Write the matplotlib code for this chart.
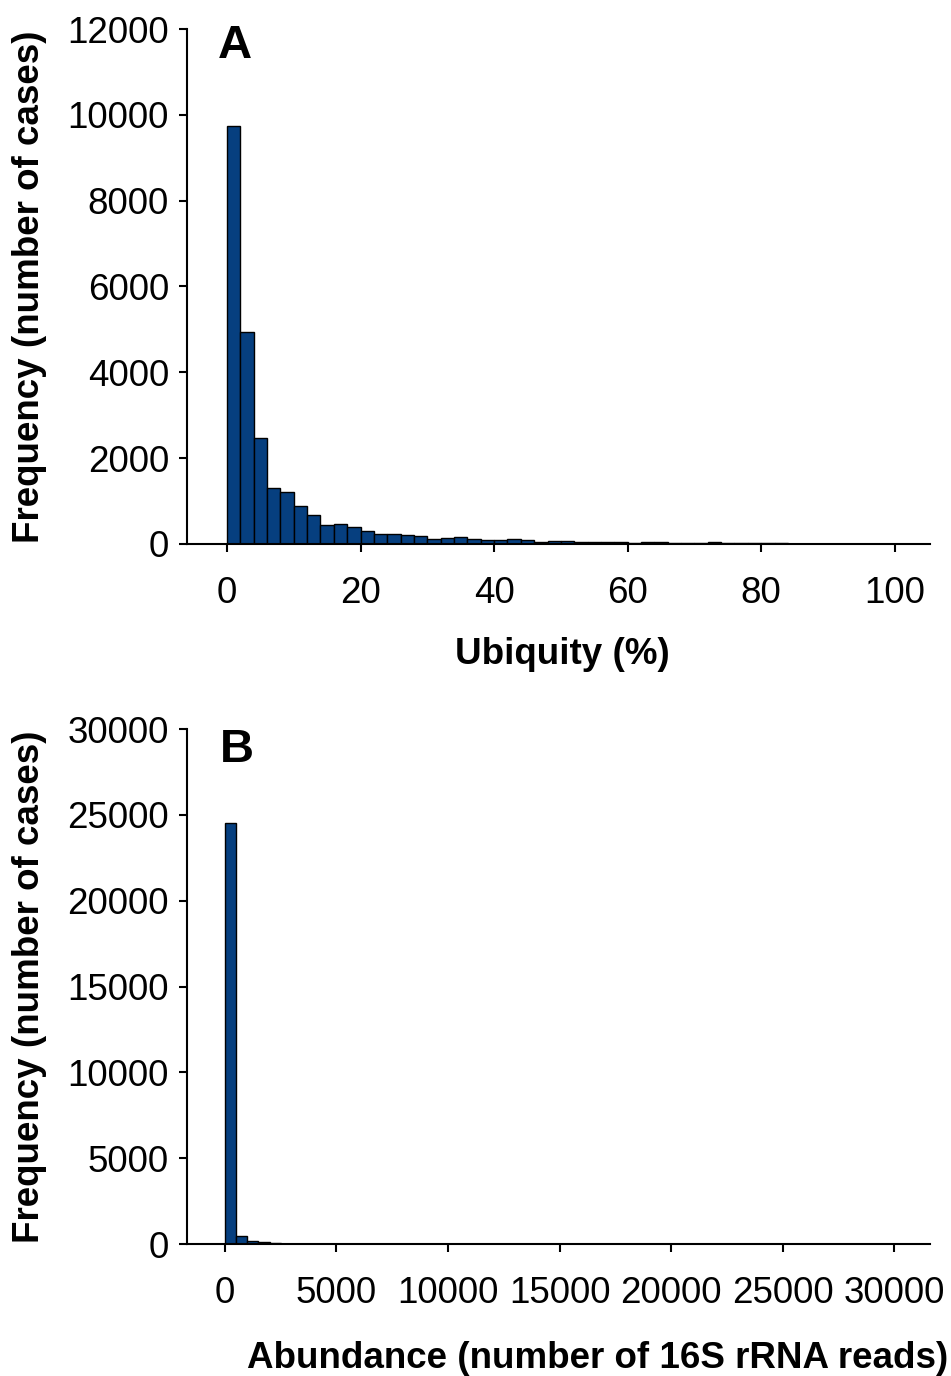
import numpy as np
import matplotlib
matplotlib.use("Agg")
import matplotlib.pyplot as plt

plt.rcParams['font.family'] = ['Liberation Sans', 'DejaVu Sans']

#----- données -----#
# Panel A : ubiquité (%), classes de 2 %
ubiq_largeur = 2
ubiq_freq = [9750, 4930, 2460, 1300, 1200, 890, 680, 440, 460, 400,
             310, 230, 240, 200, 190, 110, 130, 160, 120, 95,
             95, 110, 85, 45, 60, 70, 55, 55, 40, 40,
             30, 40, 55, 15, 15, 15, 40, 15, 15, 15,
             15, 15]
ubiq_ticks = [0, 20, 40, 60, 80, 100]
ubiq_yticks = [0, 2000, 4000, 6000, 8000, 10000, 12000]

# Panel B : abondance (nombre de lectures 16S), classes de 500
abond_largeur = 500
abond_freq = [24500, 490, 180, 100, 55]
abond_ticks = [0, 5000, 10000, 15000, 20000, 25000, 30000]
abond_yticks = [0, 5000, 10000, 15000, 20000, 25000, 30000]

couleur = '#063F7F'
fs = 26.5

fig = plt.figure(figsize=(9.51, 13.76), dpi=100)
ax1 = fig.add_axes([0.1966, 0.6047, 0.7814, 0.3742])
ax2 = fig.add_axes([0.1966, 0.0959, 0.7814, 0.3743])


def style(ax, xticks, yticks, xlim, ylim):
    for s in ['top', 'right']:
        ax.spines[s].set_visible(False)
    for s in ['left', 'bottom']:
        ax.spines[s].set_linewidth(1.5)
    ax.set_xlim(*xlim)
    ax.set_ylim(*ylim)
    ax.set_xticks(xticks)
    ax.set_yticks(yticks)
    ax.tick_params(axis='y', direction='out', length=6, width=1.5, pad=7, labelsize=fs)
    ax.tick_params(axis='x', direction='out', length=6, width=1.5, pad=17, labelsize=fs)
    ax.spines['left'].set_bounds(ylim[0], yticks[-1])


# --- Graphique A --- #
x_a = np.arange(len(ubiq_freq)) * ubiq_largeur
ax1.bar(x_a, ubiq_freq, width=ubiq_largeur, align='edge', color=couleur,
        edgecolor='black', linewidth=1)
style(ax1, ubiq_ticks, ubiq_yticks, (-6, 105.3), (0, 12000))
ax1.set_xlabel('Ubiquity (%)', fontsize=fs, fontweight='bold', va='top')
ax1.xaxis.set_label_coords(0.505, -0.181)
ax1.set_ylabel('Frequency (number of cases)', fontsize=fs, fontweight='bold')
ax1.yaxis.set_label_coords(-0.188, 0.5)
ax1.text(0.042, 1.01, 'A', transform=ax1.transAxes, fontsize=34,
         fontweight='bold', va='top', ha='left')

# --- Graphique B --- #
x_b = np.arange(len(abond_freq)) * abond_largeur
ax2.bar(x_b, abond_freq, width=abond_largeur, align='edge', color=couleur,
        edgecolor='black', linewidth=1)
style(ax2, abond_ticks, abond_yticks, (-1700, 31600), (0, 30000))
ax2.set_xlabel('Abundance (number of 16S rRNA reads)', fontsize=fs,
               fontweight='bold', va='top')
ax2.xaxis.set_label_coords(0.553, -0.188)
ax2.set_ylabel('Frequency (number of cases)', fontsize=fs, fontweight='bold')
ax2.yaxis.set_label_coords(-0.188, 0.5)
ax2.text(0.044, 1.002, 'B', transform=ax2.transAxes, fontsize=34,
         fontweight='bold', va='top', ha='left')

fig.savefig('out.png', dpi=100)
